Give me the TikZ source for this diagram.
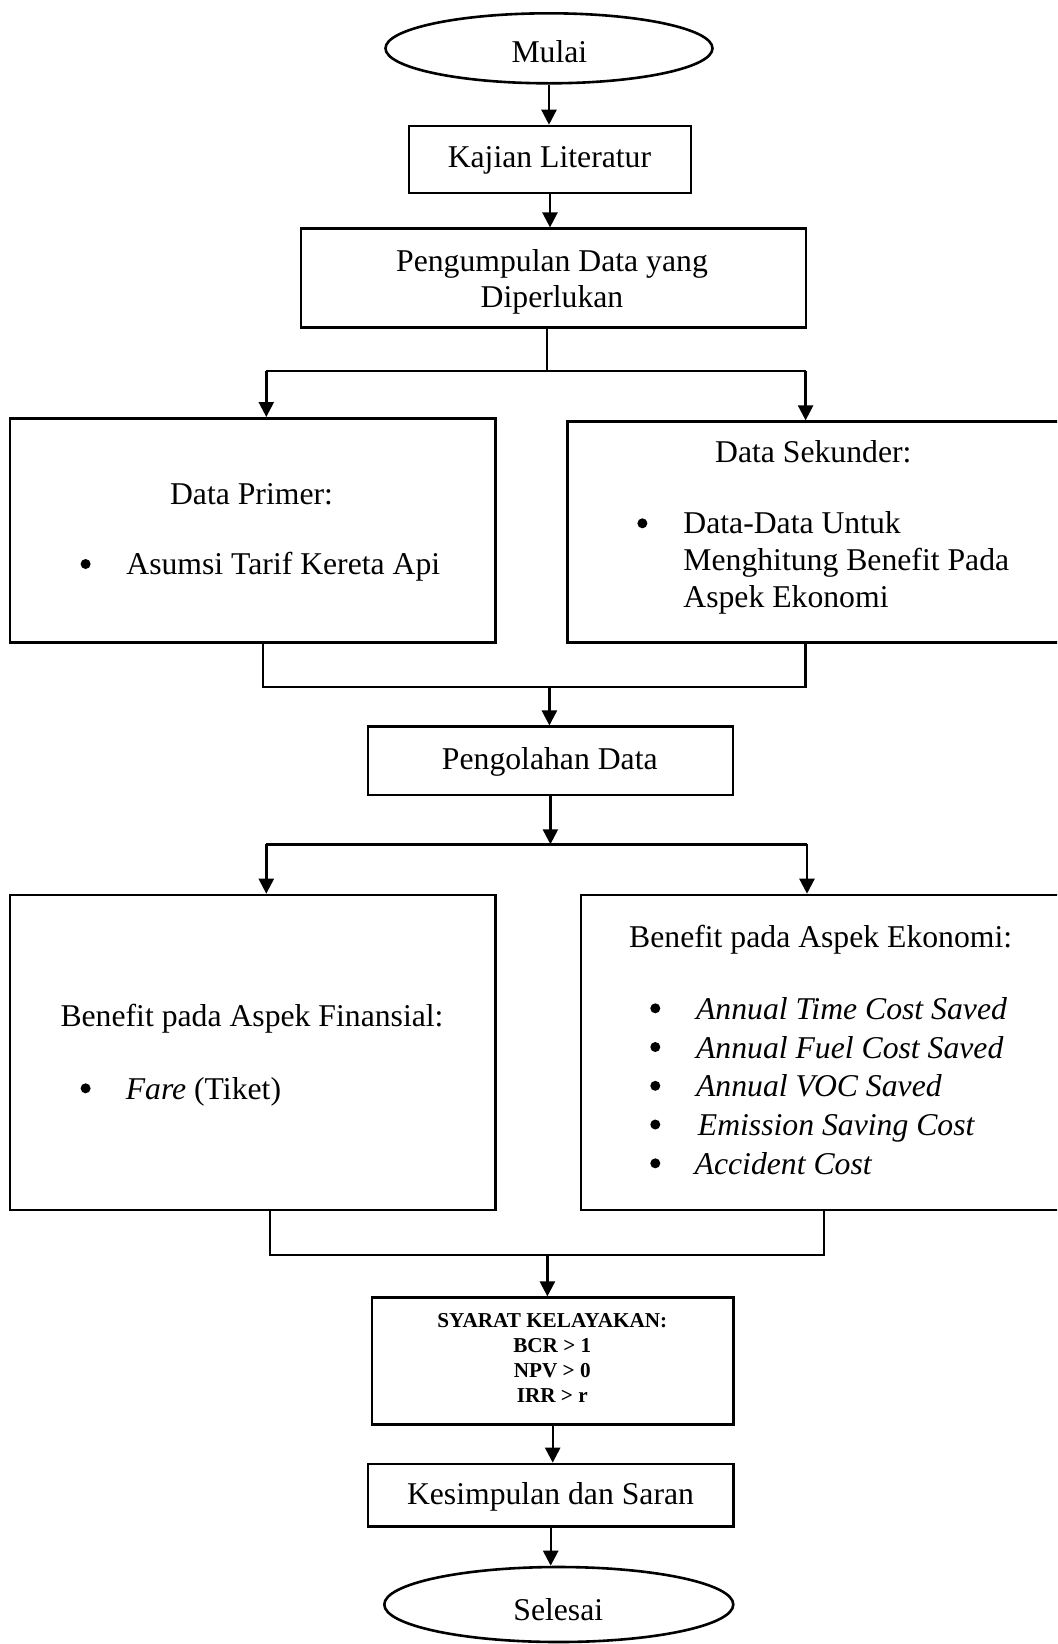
\documentclass[tikz,border=0pt]{standalone}
\usepackage{fontspec}
\setmainfont{Liberation Serif}
\usetikzlibrary{arrows.meta,shapes.geometric}
\begin{document}
\begin{tikzpicture}[x=0.5pt,y=-0.5pt,
  box/.style={draw, line width=1.3pt, inner sep=0pt, rectangle},
  oval/.style={draw, line width=1.3pt, inner sep=0pt, ellipse},
  conn/.style={line width=1.2pt},
  arr/.style={line width=1.2pt, -{Triangle[length=7.5pt,width=7.5pt]}},
  txt/.style={inner sep=0pt, anchor=base, font=\fontsize{15.85}{19}\selectfont},
  txtw/.style={txt, anchor=base west},
  small/.style={inner sep=0pt, anchor=base, font=\fontsize{10.6}{12.7}\selectfont\bfseries},
  dot/.style={circle, fill, inner sep=0pt, minimum size=5pt}
]
\fill[white] (0,0) rectangle (1057,1644);
\useasboundingbox (0,0) rectangle (1057,1644);
\clip (0,0) rectangle (1057,1644);

% shapes
\node[oval, minimum width=163.5pt, minimum height=35pt] (mulai) at (549,48.3) {};
\node[box, minimum width=141pt, minimum height=33.5pt] (kaj) at (550,159.5) {};
\node[box, minimum width=252.5pt, minimum height=49.5pt] (peng) at (553.3,278.2) {};
\node[box, minimum width=242.75pt, minimum height=112.2pt] (prim) at (252.8,530.5) {};
\node[box, minimum width=251.2pt, minimum height=110.5pt] (sek) at (818.8,532.2) {};
\node[box, minimum width=182.4pt, minimum height=34.15pt] (olah) at (550.4,760.9) {};
\node[box, minimum width=242.75pt, minimum height=157.5pt] (fin) at (252.8,1052.5) {};
\node[box, minimum width=244.5pt, minimum height=157.5pt] (eko) at (825.5,1052.5) {};
\node[box, minimum width=180.65pt, minimum height=63.5pt] (syarat) at (552.7,1361.2) {};
\node[box, minimum width=182.65pt, minimum height=31.35pt] (kes) at (550.7,1495.3) {};
\node[oval, minimum width=174.5pt, minimum height=37.5pt] (selesai) at (558.8,1604.5) {};

% connectors
\draw[arr] (mulai.south) -- (mulai.south |- kaj.north);
\draw[arr] (kaj.south) -- (kaj.south |- peng.north);
\coordinate (s1) at (546.7,371);
\coordinate (s1L) at (266.3,371);
\coordinate (s1R) at (805.6,371);
\draw[conn] (s1 |- peng.south) -- (s1);
\draw[conn] (s1L) -- (s1R);
\draw[arr] (s1L) -- (s1L |- prim.north);
\draw[arr] (s1R) -- (s1R |- sek.north);
\coordinate (m1L) at (263,686.7);
\coordinate (m1R) at (805.6,686.7);
\coordinate (m1) at (549.4,686.7);
\draw[conn] (m1L |- prim.south) -- (m1L) -- (m1R) -- (m1R |- sek.south);
\draw[arr] (m1) -- (m1 |- olah.north);
\coordinate (s2) at (550.4,844.3);
\coordinate (s2L) at (266.3,844.3);
\coordinate (s2R) at (807,844.3);
\draw[arr] (olah.south) -- (s2);
\draw[conn] (s2L) -- (s2R);
\draw[arr] (s2L) -- (s2L |- fin.north);
\draw[arr] (s2R) -- (s2R |- eko.north);
\coordinate (m2L) at (269.7,1255);
\coordinate (m2R) at (823.8,1255);
\coordinate (m2) at (547.4,1255);
\draw[conn] (m2L |- fin.south) -- (m2L) -- (m2R) -- (m2R |- eko.south);
\draw[arr] (m2) -- (m2 |- syarat.north);
\draw[arr] (syarat.south) -- (syarat.south |- kes.north);
\draw[arr] (kes.south) -- (kes.south |- selesai.north);

% texts
\node[txt] (tmulai) at (549.4,62) {Mulai};
\node[txt] (tkaj) at (549.4,167) {Kajian Literatur};
\node[txt] (tpeng1) at (552,271) {Pengumpulan Data yang};
\node[txt] (tpeng2) at (552,307.7) {Diperlukan};
\node[txt] (tprim) at (251.5,504.3) {Data Primer:};
\node[dot] (bprim) at (85.6,564) {};
\node[txtw] (tprim1) at (126,574.3) {Asumsi Tarif Kereta Api};
\node[txt] (tsek) at (813.3,462.7) {Data Sekunder:};
\node[dot] (bsek) at (642.4,523.3) {};
\node[txtw] (tsek1) at (683,533.7) {Data-Data Untuk};
\node[txtw] (tsek2) at (683,570.4) {Menghitung Benefit Pada};
\node[txtw] (tsek3) at (683,607) {Aspek Ekonomi};
\node[txt] (tolah) at (549.8,769.3) {Pengolahan Data};
\node[txt] (tfin) at (252,1026) {Benefit pada Aspek Finansial:};
\node[dot] (bfin) at (85.6,1088.3) {};
\node[txtw] (tfin1) at (125.4,1099.3) {\textit{Fare} (Tiket)};
\node[txt] (teko) at (820.7,947.7) {Benefit pada Aspek Ekonomi:};
\node[dot] (be1) at (655.3,1008.3) {};
\node[dot] (be2) at (655.3,1047) {};
\node[dot] (be3) at (655.3,1085.8) {};
\node[dot] (be4) at (655.3,1124.5) {};
\node[dot] (be5) at (655.3,1163.3) {};
\node[txtw] (te1) at (695.7,1019.3) {\textit{Annual Time Cost Saved}};
\node[txtw] (te2) at (695.7,1058) {\textit{Annual Fuel Cost Saved}};
\node[txtw] (te3) at (695.7,1096.8) {\textit{Annual VOC Saved}};
\node[txtw] (te4) at (697.5,1135.5) {\textit{Emission Saving Cost}};
\node[txtw] (te5) at (694.3,1174.3) {\textit{Accident Cost}};
\node[small] (ts1) at (552.3,1327.6) {SYARAT KELAYAKAN:};
\node[small] (ts2) at (552.3,1352.6) {BCR > 1};
\node[small] (ts3) at (552.3,1377.6) {NPV > 0};
\node[small] (ts4) at (552.3,1402) {IRR > r};
\node[txt] (tkes) at (550.5,1504.3) {Kesimpulan dan Saran};
\node[txt] (tsel) at (558.3,1620.5) {Selesai};
\end{tikzpicture}
\end{document}
